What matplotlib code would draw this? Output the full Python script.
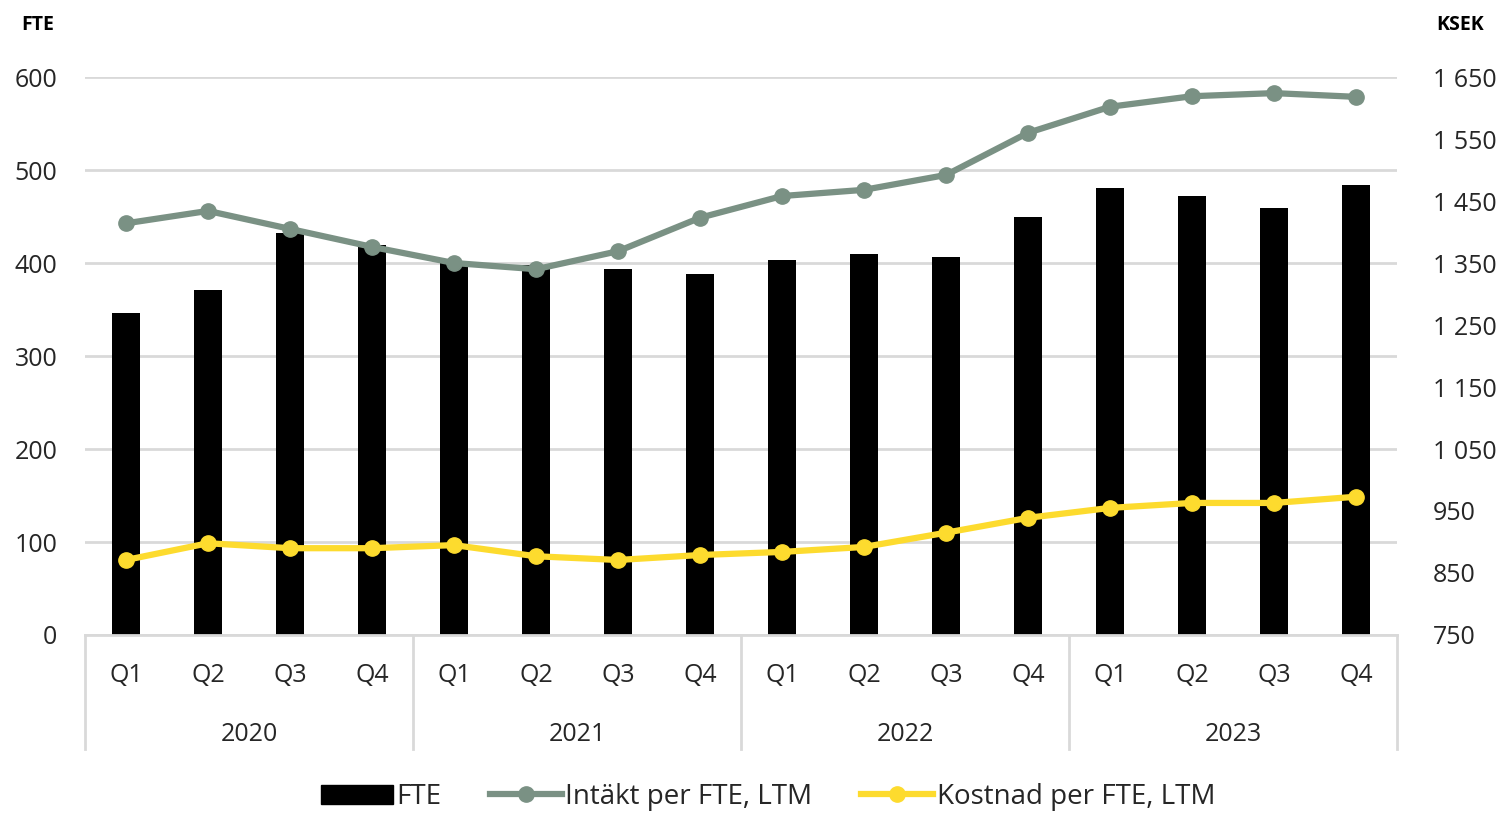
import matplotlib
matplotlib.use("Agg")
import matplotlib.pyplot as plt
from matplotlib.ticker import FuncFormatter, FixedLocator
from matplotlib.lines import Line2D
from matplotlib.patches import Patch

plt.rcParams['font.family'] = ['Open Sans', 'DejaVu Sans']

quarters = ["Q1", "Q2", "Q3", "Q4"] * 4
years = ["2020", "2021", "2022", "2023"]
fte = [346, 371, 432, 419, 400, 398, 394, 388, 403, 410, 406, 449, 481, 472, 459, 484]
intakt = [1414, 1434, 1405, 1376, 1350, 1340, 1369, 1423, 1458, 1468, 1492, 1560, 1602, 1619, 1624, 1618]
kostnad = [871, 898, 890, 890, 895, 877, 871, 879, 884, 892, 915, 939, 955, 963, 963, 973]

left_ticks = [0, 100, 200, 300, 400, 500, 600]
right_ticks = [750, 850, 950, 1050, 1150, 1250, 1350, 1450, 1550, 1650]

bar_color = "#000000"
intakt_color = "#7a9184"
kostnad_color = "#fddb2e"
grid_color = "#d9d9d9"
text_color = "#262626"
fs = 18

W, H = 1497, 813
fig = plt.figure(figsize=(W / 100, H / 100), dpi=100)
x0, x1, yb, yt = 85, 1397, 635, 77
ax = fig.add_axes([x0 / W, 1 - yb / H, (x1 - x0) / W, (yb - yt) / H])

n = len(fte)
xs = list(range(n))
ax.bar(xs, fte, width=0.35, color=bar_color, zorder=2)
ax.set_xlim(-0.5, n - 0.5)
ax.set_ylim(0, 600)
ax.yaxis.set_major_locator(FixedLocator(left_ticks))
ax.grid(axis='y', color=grid_color, linewidth=2, zorder=0)
ax.set_axisbelow(True)
for s in ["top", "right", "left"]:
    ax.spines[s].set_visible(False)
ax.spines["bottom"].set_color(grid_color)
ax.spines["bottom"].set_linewidth(2)
ax.tick_params(axis='y', length=0, labelsize=fs, labelcolor=text_color, pad=20)
ax.set_xticks(xs)
ax.set_xticklabels(quarters)
ax.tick_params(axis='x', length=0, labelsize=fs, labelcolor=text_color, pad=20)

ax2 = ax.twinx()
ax2.set_ylim(750, 1650)
ax2.yaxis.set_major_locator(FixedLocator(right_ticks))
ax2.yaxis.set_major_formatter(FuncFormatter(lambda v, p: f"{int(v):,}".replace(",", " ")))
for s in ["top", "right", "left", "bottom"]:
    ax2.spines[s].set_visible(False)
ax2.tick_params(axis='y', length=0, labelsize=fs, labelcolor=text_color, pad=26)
ax2.plot(xs, intakt, color=intakt_color, linewidth=4.5, marker='o', markersize=11, zorder=3)
ax2.plot(xs, kostnad, color=kostnad_color, linewidth=4.5, marker='o', markersize=11, zorder=3)

# year group separators and labels
tr = ax.get_xaxis_transform()
for i in range(len(years) + 1):
    xv = i * 4 - 0.5
    ax.add_line(Line2D([xv, xv], [0, -0.205], transform=tr, color=grid_color,
                       linewidth=2, clip_on=False))
for i, yr in enumerate(years):
    ax.text(i * 4 + 1.5, -0.178, yr, transform=tr, ha='center', va='center',
            fontsize=fs, color=text_color)

fig.text(38 / W, 1 - 25 / H, "FTE", ha='center', va='center', fontsize=14,
         fontweight='bold', color='black')
fig.text(1460 / W, 1 - 25 / H, "KSEK", ha='center', va='center', fontsize=14,
         fontweight='bold', color='black')

handles = [
    Patch(facecolor=bar_color, edgecolor=bar_color),
    Line2D([0], [0], color=intakt_color, linewidth=4.5, marker='o', markersize=11),
    Line2D([0], [0], color=kostnad_color, linewidth=4.5, marker='o', markersize=11),
]
labels = ["FTE", "Intäkt per FTE, LTM", "Kostnad per FTE, LTM"]
fig.legend(handles, labels, loc='center', bbox_to_anchor=(768 / W, 1 - 797 / H),
           ncol=3, frameon=False, fontsize=20, handlelength=2.6, handletextpad=0.12,
           columnspacing=1.75, labelcolor=text_color)

fig.savefig("out.png", dpi=100)
